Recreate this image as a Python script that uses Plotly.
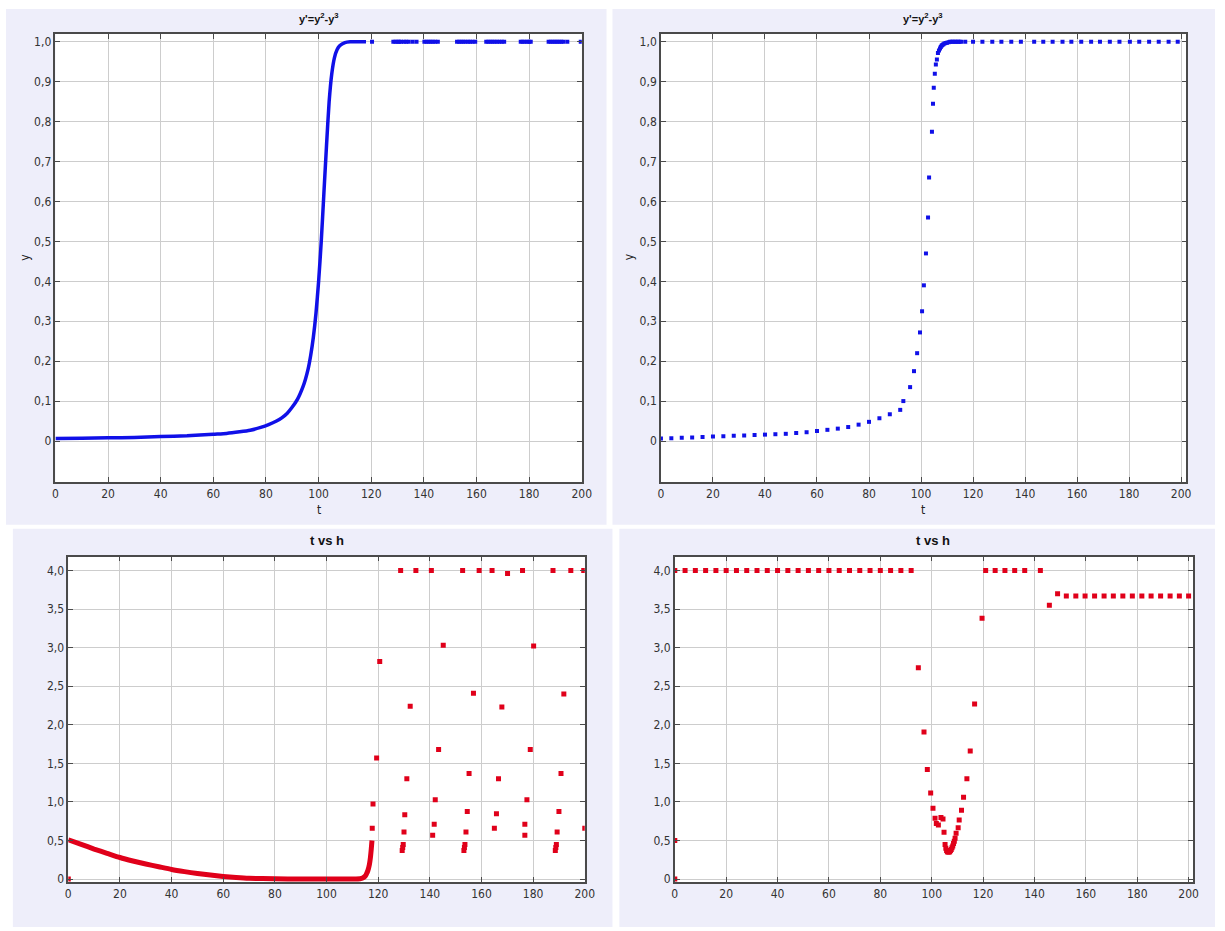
import plotly.graph_objects as go

# ---------------- data ----------------
x_ticks = [0, 20, 40, 60, 80, 100, 120, 140, 160, 180, 200]
x_ticklabels = ["0", "20", "40", "60", "80", "100", "120", "140", "160", "180", "200"]
y_top_ticks = [0, 0.1, 0.2, 0.3, 0.4, 0.5, 0.6, 0.7, 0.8, 0.9, 1.0]
y_top_ticklabels = ["0", "0,1", "0,2", "0,3", "0,4", "0,5", "0,6", "0,7", "0,8", "0,9", "1,0"]
y_bot_ticks = [0, 0.5, 1.0, 1.5, 2.0, 2.5, 3.0, 3.5, 4.0]
y_bot_ticklabels = ["0", "0,5", "1,0", "1,5", "2,0", "2,5", "3,0", "3,5", "4,0"]

# top-left: y(t), dense solver output (drawn as continuous band) + sparse points
tl_dense_t = [0, 10, 20, 30, 40, 50, 60, 65, 70, 74, 78, 81, 84, 86, 88, 90, 92, 94, 95, 96, 97, 98, 99,
              100, 101, 102, 103, 104, 105, 106, 107, 108, 110, 112, 118]
tl_dense_y = [0.006, 0.007, 0.008, 0.009, 0.011, 0.013, 0.017, 0.019, 0.023, 0.027, 0.034, 0.041, 0.05,
              0.058, 0.069, 0.085, 0.105, 0.135, 0.155, 0.18, 0.215, 0.26, 0.32, 0.40, 0.50, 0.62,
              0.74, 0.85, 0.92, 0.96, 0.98, 0.99, 0.998, 1.0, 1.0]
tl_sparse_t = [120.3,
               128.4, 129.2, 130.0, 130.6, 131.3, 132.4, 133.3, 134.2,
               135.7, 137.2,
               140.2, 141.0, 141.8, 142.6, 143.4, 144.3, 145.3,
               152.6, 153.4, 154.2, 155.0, 155.8, 156.8, 157.6, 158.5,
               159.5,
               163.7, 164.5, 165.3, 166.1, 166.9, 167.8, 168.7, 169.6,
               170.5,
               176.8, 177.5, 178.3, 179.2, 180.0, 180.6,
               187.4, 188.2, 189.0, 189.8, 190.6, 191.4, 192.2, 193.0,
               194.5,
               199.6]
tl_sparse_y = [1.0,
               1.0, 1.0, 1.0, 1.0, 1.0, 1.0, 1.0, 1.0,
               1.0, 1.0,
               1.0, 1.0, 1.0, 1.0, 1.0, 1.0, 1.0,
               1.0, 1.0, 1.0, 1.0, 1.0, 1.0, 1.0, 1.0,
               1.0,
               1.0, 1.0, 1.0, 1.0, 1.0, 1.0, 1.0, 1.0,
               1.0,
               1.0, 1.0, 1.0, 1.0, 1.0, 1.0,
               1.0, 1.0, 1.0, 1.0, 1.0, 1.0, 1.0, 1.0,
               1.0,
               1.0]

# top-right: y(t) from the second solver
tr_t = [0, 4, 8, 12, 16, 20, 24, 28, 32, 36, 40, 44, 48, 52, 56, 60, 64, 68, 72, 76, 80, 84, 88, 92,
        93.2, 95.8, 97.3, 98.5, 99.6, 100.4, 101.1, 101.9, 102.7, 103.1, 104.2, 104.6, 104.9, 105.3,
        105.7, 106.1, 106.5, 106.9, 107.3, 107.6, 107.9, 108.2, 108.6, 109.0, 109.5, 110.0, 110.6,
        111.2, 111.8, 112.4, 113.0, 113.6, 114.2, 114.8, 115.4,
        117.0, 120.0, 123.6, 127.4, 130.9, 134.7, 138.4, 143.5, 147.0, 150.6, 154.4, 157.8, 161.6,
        165.4, 168.8, 172.6, 176.3, 180.3, 183.9, 187.7, 191.4, 195.2, 198.7]
tr_y = [0.006, 0.007, 0.008, 0.009, 0.010, 0.011, 0.012, 0.013, 0.014, 0.015, 0.016, 0.017, 0.018,
        0.020, 0.022, 0.025, 0.028, 0.031, 0.035, 0.041, 0.048, 0.057, 0.067, 0.078,
        0.10, 0.135, 0.175, 0.22, 0.272, 0.325, 0.39, 0.47, 0.56, 0.66, 0.775, 0.845, 0.885, 0.92,
        0.943, 0.956, 0.972, 0.978, 0.983, 0.987, 0.99, 0.992, 0.994, 0.996, 0.997, 0.998, 0.999,
        1.0, 1.0, 1.0, 1.0, 1.0, 1.0, 1.0, 1.0,
        1.0, 1.0, 1.0, 1.0, 1.0, 1.0, 1.0, 1.0, 1.0, 1.0, 1.0, 1.0, 1.0,
        1.0, 1.0, 1.0, 1.0, 1.0, 1.0, 1.0, 1.0, 1.0, 1.0]

# bottom-left: step size h vs t (first solver)
bl_dense_t = [0, 5, 10, 15, 20, 25, 30, 35, 40, 45, 50, 55, 60, 65, 70, 80, 90, 100, 110, 113,
              114, 115, 115.5, 116, 116.6, 117, 117.3, 117.6]
bl_dense_h = [0.51, 0.45, 0.39, 0.335, 0.28, 0.235, 0.195, 0.16, 0.125, 0.097, 0.072, 0.052, 0.035,
              0.021, 0.011, 0.004, 0.002, 0.002, 0.002, 0.005, 0.015, 0.04, 0.07, 0.11, 0.19, 0.28,
              0.38, 0.5]
bl_sparse_t = [0, 117.7, 118.0, 119.4, 120.6,
               128.7, 129.3, 129.5, 129.7, 130.0, 130.3, 131.1, 132.4, 134.6,
               140.6, 141.1, 141.7, 142.1, 143.4, 145.2,
               152.7, 153.2, 153.4, 153.6, 154.0, 154.5, 155.2, 156.9, 159.1,
               164.1, 165.0, 165.8, 166.6, 167.9, 170.1,
               175.9, 176.8, 176.8, 177.6, 178.9, 180.2,
               187.7, 188.6, 188.8, 189.0, 189.3, 190.0, 190.8, 191.9, 194.6,
               199.6, 200.0]
bl_sparse_h = [0.0, 0.66, 0.975, 1.57, 2.82,
               4.0, 0.37, 0.41, 0.45, 0.61, 0.834, 1.30, 2.24, 4.0,
               4.0, 0.57, 0.71, 1.03, 1.68, 3.03,
               4.0, 0.37, 0.41, 0.45, 0.61, 0.877, 1.37, 2.41, 4.0,
               4.0, 0.66, 0.847, 1.30, 2.23, 3.96,
               4.0, 0.57, 0.71, 1.03, 1.68, 3.02,
               4.0, 0.37, 0.41, 0.45, 0.61, 0.877, 1.37, 2.40, 4.0,
               4.0, 0.66]

# bottom-right: step size h vs t (second solver)
br_t = [0, 0, 0, 4, 8, 12, 16, 20, 24, 28, 32, 36, 40, 44, 48, 52, 56, 60, 64, 68, 72, 76, 80, 84,
        88, 92,
        94.8, 97.0, 98.3, 99.6, 100.5, 101.3, 101.8, 102.6, 103.6, 104.4, 104.8,
        105.2, 105.5, 105.8, 106.1, 106.4, 106.7, 107.0, 107.3, 107.6, 107.9, 108.2, 108.5, 108.8,
        109.1, 109.5, 110.3, 110.7, 111.6, 112.4, 113.7, 115.0, 116.7, 119.6,
        121.0, 124.7, 128.5, 132.3, 136.2, 142.3, 145.8, 149.0,
        152.4, 156.1, 159.7, 163.4, 167.1, 170.7, 174.4, 178.1, 181.8, 185.4, 189.1, 192.8, 196.4,
        200.0]
br_h = [4.0, 0.5, 0.0, 4.0, 4.0, 4.0, 4.0, 4.0, 4.0, 4.0, 4.0, 4.0, 4.0, 4.0, 4.0, 4.0, 4.0, 4.0,
        4.0, 4.0, 4.0, 4.0, 4.0, 4.0, 4.0, 4.0,
        2.74, 1.906, 1.42, 1.115, 0.92, 0.79, 0.72, 0.70, 0.80, 0.78, 0.607,
        0.45, 0.40, 0.37, 0.355, 0.35, 0.35, 0.355, 0.37, 0.385, 0.405, 0.43, 0.46, 0.49,
        0.53, 0.594, 0.667, 0.765, 0.893, 1.06, 1.30, 1.66, 2.27, 3.38,
        4.0, 4.0, 4.0, 4.0, 4.0, 4.0, 3.55, 3.70,
        3.67, 3.67, 3.67, 3.67, 3.67, 3.67, 3.67, 3.67, 3.67, 3.67, 3.67, 3.67, 3.67,
        3.67]

# ---------------- styling ----------------
W, H = 1225, 931
BLUE = "#1010E8"
RED = "#E0001A"
PANEL = "#EEEEFA"
GRID = "#CDCDCD"
AXLINE = "#4A4A4A"
FONT = "Liberation Sans Narrow, DejaVu Sans Condensed, Arial Narrow, sans-serif"


def fx(p):
    return p / W


def fy(p):
    return 1 - p / H


fig = go.Figure()

fig.add_trace(go.Scatter(x=tl_dense_t, y=tl_dense_y, mode="lines",
                         line=dict(color=BLUE, width=3.5, shape="spline", smoothing=0.6),
                         xaxis="x", yaxis="y"))
fig.add_trace(go.Scatter(x=tl_sparse_t, y=tl_sparse_y, mode="markers",
                         marker=dict(color=BLUE, size=4, symbol="square"), xaxis="x", yaxis="y"))
fig.add_trace(go.Scatter(x=tr_t, y=tr_y, mode="markers",
                         marker=dict(color=BLUE, size=4, symbol="square"), xaxis="x2", yaxis="y2"))
fig.add_trace(go.Scatter(x=bl_dense_t, y=bl_dense_h, mode="lines",
                         line=dict(color=RED, width=5, shape="spline", smoothing=0.6),
                         xaxis="x3", yaxis="y3"))
fig.add_trace(go.Scatter(x=bl_sparse_t, y=bl_sparse_h, mode="markers",
                         marker=dict(color=RED, size=5, symbol="square"), xaxis="x3", yaxis="y3"))
fig.add_trace(go.Scatter(x=br_t, y=br_h, mode="markers",
                         marker=dict(color=RED, size=5, symbol="square"), xaxis="x4", yaxis="y4"))

# plot-area rectangles in pixels: (left, right, top, bottom)
areas = {
    "1": (53, 585, 34, 484),
    "2": (665, 1196, 34, 484),
    "3": (66, 588, 559, 886),
    "4": (679, 1203, 559, 886),
}
xranges = {"1": [0, 200], "2": [0, 202], "3": [0, 200], "4": [0, 201.8]}
yranges = {"1": [-0.1025, 1.02], "2": [-0.1025, 1.02], "3": [-0.04, 4.18], "4": [-0.04, 4.18]}

common = dict(showgrid=True, gridcolor=GRID, gridwidth=1, zeroline=False,
              showline=True, linecolor=AXLINE, linewidth=1.5, mirror="ticks",
              ticks="inside", ticklen=5, tickcolor=AXLINE,
              tickfont=dict(family=FONT, size=12, color="#333333"))

layout_axes = {}
for k, (l, r, t, b) in areas.items():
    xa = "xaxis" if k == "1" else "xaxis" + k
    ya = "yaxis" if k == "1" else "yaxis" + k
    anchor_x = "y" if k == "1" else "y" + k
    anchor_y = "x" if k == "1" else "x" + k
    layout_axes[xa] = dict(common, domain=[fx(l), fx(r)], anchor=anchor_x, range=xranges[k],
                           tickmode="array", tickvals=x_ticks, ticktext=x_ticklabels)
    if k in ("1", "2"):
        yt, yl = y_top_ticks, y_top_ticklabels
    else:
        yt, yl = y_bot_ticks, y_bot_ticklabels
    layout_axes[ya] = dict(common, domain=[fy(b), fy(t)], anchor=anchor_y, range=yranges[k],
                           tickmode="array", tickvals=yt, ticktext=yl)

shapes = []
for (l, r, t, b) in [(3, 610, 9, 527), (616, 1225, 9, 527), (10, 616, 531, 931), (623, 1225, 531, 931)]:
    shapes.append(dict(type="rect", xref="paper", yref="paper", x0=fx(l), x1=fx(r), y0=fy(b), y1=fy(t),
                       fillcolor=PANEL, line=dict(width=0), layer="below"))
for (l, r, t, b) in areas.values():
    shapes.append(dict(type="rect", xref="paper", yref="paper", x0=fx(l), x1=fx(r), y0=fy(b), y1=fy(t),
                       fillcolor="white", line=dict(width=0), layer="below"))

annotations = []
for (cx, cy, txt, size) in [(319, 18, "<b>y'=y<sup>2</sup>-y<sup>3</sup></b>", 11),
                            (930, 18, "<b>y'=y<sup>2</sup>-y<sup>3</sup></b>", 11),
                            (327, 543, "<b>t vs h</b>", 13),
                            (940, 543, "<b>t vs h</b>", 13)]:
    annotations.append(dict(x=fx(cx), y=fy(cy), xref="paper", yref="paper", text=txt, showarrow=False,
                            xanchor="center", yanchor="middle",
                            font=dict(family="Liberation Sans, Arial, sans-serif", size=size,
                                      color="#111111")))
for (cx, cy, txt, ang) in [(319, 512, "t", 0), (930, 512, "t", 0), (22, 258, "y", -90), (633, 258, "y", -90)]:
    annotations.append(dict(x=fx(cx), y=fy(cy), xref="paper", yref="paper", text=txt, showarrow=False,
                            xanchor="center", yanchor="middle", textangle=ang,
                            font=dict(family=FONT, size=12, color="#222222")))

fig.update_layout(width=W, height=H, margin=dict(l=0, r=0, t=0, b=0, pad=0),
                  font=dict(family=FONT, size=12, color="#333333"),
                  paper_bgcolor="white", plot_bgcolor="rgba(0,0,0,0)", showlegend=False,
                  shapes=shapes, annotations=annotations, **layout_axes)

fig.write_html("out.html", config={"displayModeBar": False},
               post_script="document.body.style.margin='0';document.body.style.overflow='hidden';")
